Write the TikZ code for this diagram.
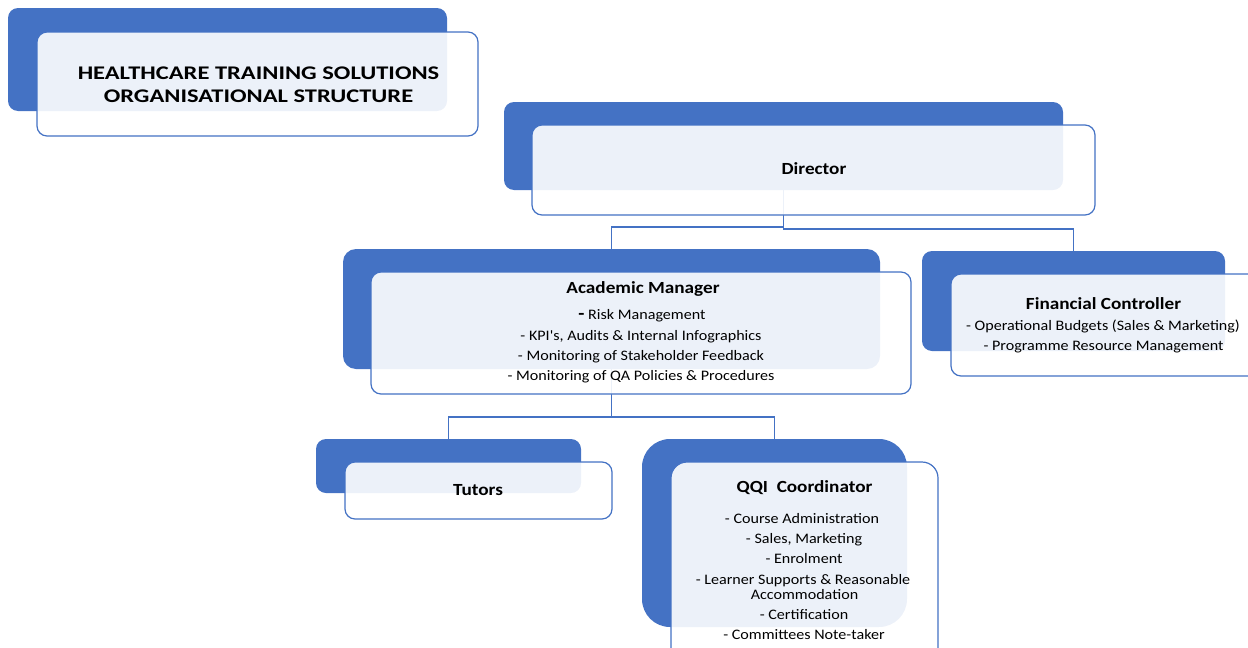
\documentclass[tikz,border=0pt]{standalone}
\usepackage{fontspec}
\setmainfont{Carlito}
\definecolor{sblue}{HTML}{4472C4}
\newcommand\hx[1]{\scalebox{1.13}[1]{#1}}
\newcommand\bx[1]{\scalebox{1.11}[1]{#1}}
\newcommand\tx[1]{\scalebox{1.27}[1]{#1}}
\begin{document}
\begin{tikzpicture}[x=1pt,y=-1pt,
  back/.style={fill=sblue, draw=none, rounded corners=10pt, outer sep=0pt, inner sep=0pt, anchor=north west},
  front/.style={fill=white, fill opacity=0.9, draw=sblue, line width=1.2pt, rounded corners=10pt, outer sep=0pt, inner sep=0pt, anchor=north west},
  conn/.style={draw=sblue, line width=1.4pt},
  hd/.style={font=\bfseries\fontsize{17}{20}\selectfont, inner sep=0pt, anchor=base},
  bd/.style={font=\fontsize{14.5}{17}\selectfont, inner sep=0pt, anchor=base}]
\useasboundingbox (0,0) rectangle (1248,648);
\clip (0,0) rectangle (1248,648);
% back boxes
\node[back, minimum width=439pt, minimum height=103pt] (titB) at (8,8) {};
\node[back, minimum width=559pt, minimum height=88pt] (dirB) at (504,102) {};
\node[back, minimum width=537pt, minimum height=120pt, rounded corners=13pt] (acB) at (343,249) {};
\node[back, minimum width=303pt, minimum height=100pt] (finB) at (922,251) {};
\node[back, minimum width=265pt, minimum height=54pt] (tutB) at (316,439) {};
\node[back, minimum width=265pt, minimum height=188pt, rounded corners=28pt] (qqiB) at (642,439) {};
% connectors
\draw[conn] (dirB.south) -- ++(0,37) -| (acB.north);
\draw[conn] (dirB.south) -- ++(0,39) -| (finB.north);
\draw[conn] (acB.south) -- ++(0,48) -| (tutB.north);
\draw[conn] (acB.south) -- ++(0,48) -| (qqiB.north);
% front boxes
\node[front, minimum width=441pt, minimum height=104pt] (titF) at (37,32) {};
\node[front, minimum width=563pt, minimum height=90pt] (dirF) at (532,125) {};
\node[front, minimum width=540pt, minimum height=122pt] (acF) at (371,272) {};
\node[front, minimum width=320pt, minimum height=102pt] (finF) at (951,274) {};
\node[front, minimum width=267pt, minimum height=57pt] (tutF) at (345,462) {};
\node[front, minimum width=267pt, minimum height=210pt, rounded corners=16pt] (qqiF) at (671,462) {};
% texts
\node[font=\bfseries\fontsize{19.3}{23}\selectfont, align=center, inner sep=0pt, anchor=base] (titT) at (258.5,102) {\tx{HEALTHCARE TRAINING SOLUTIONS}\\\tx{ORGANISATIONAL STRUCTURE}};
\node[hd] (dirT) at (814,174) {\hx{Director}};
\node[hd] (acT) at (643,293) {\hx{Academic Manager}};
\node[bd] (ac1) at (642,319) {\bx{{\bfseries\fontsize{18}{18}\selectfont -} Risk Management}};
\node[bd] (ac2) at (641,340) {\bx{- KPI\textquotesingle s, Audits \& Internal Infographics}};
\node[bd] (ac3) at (641,360) {\bx{- Monitoring of Stakeholder Feedback}};
\node[bd] (ac4) at (641,380) {\bx{- Monitoring of QA Policies \& Procedures}};
\node[hd] (finT) at (1103.5,309) {\hx{Financial Controller}};
\node[bd] (fin1) at (1103,330) {\bx{- Operational Budgets (Sales \& Marketing)}};
\node[bd] (fin2) at (1103.5,350) {\bx{- Programme Resource Management}};
\node[hd] (tutT) at (478,495) {\hx{Tutors}};
\node[hd] (qqiT) at (804.5,492) {\hx{QQI\ \ Coordinator}};
\node[bd] (q1) at (802,523) {\bx{- Course Administration}};
\node[bd] (q2) at (804,543) {\bx{- Sales, Marketing}};
\node[bd] (q3) at (804,563) {\bx{- Enrolment}};
\node[bd] (q4) at (803,584) {\bx{- Learner Supports \& Reasonable}};
\node[bd] (q5) at (804.5,599) {\bx{Accommodation}};
\node[bd] (q6) at (804,619) {\bx{- Certification}};
\node[bd] (q7) at (804,639) {\bx{- Committees Note-taker}};
\end{tikzpicture}
\end{document}
